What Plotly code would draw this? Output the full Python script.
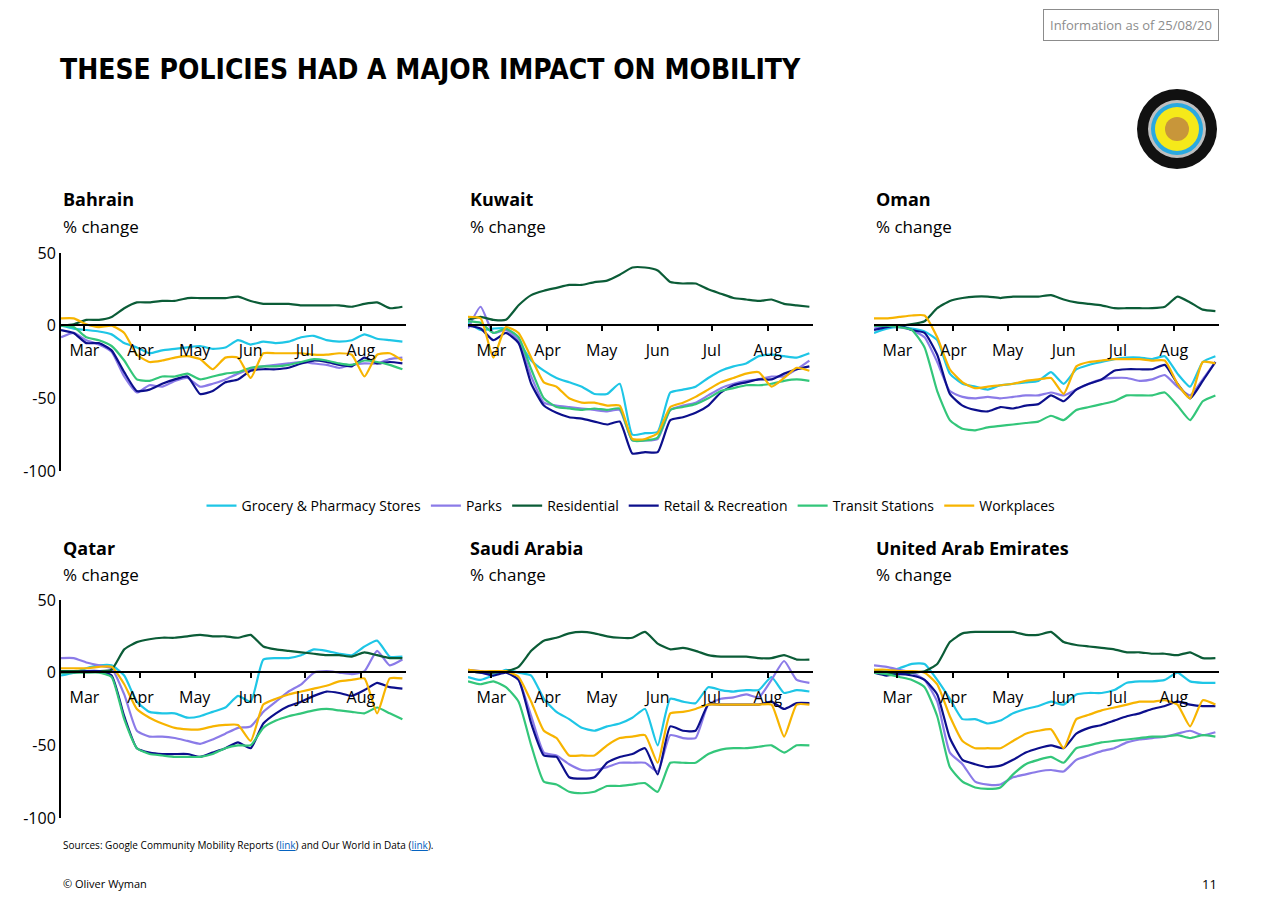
import pandas as pd
import plotly.graph_objects as go

# weekly samples, starting 17 Feb 2020
dates = pd.date_range("2020-02-17", periods=28, freq="7D")

countries = ["Bahrain", "Kuwait", "Oman", "Qatar", "Saudi Arabia", "United Arab Emirates"]
categories = ["Grocery & Pharmacy Stores", "Parks", "Residential",
              "Retail & Recreation", "Transit Stations", "Workplaces"]
y_ticks = [50, 0, -50, -100]
y_labels = ["50", "0", "-50", "-100"]

bahrain_grocery = [0, -2, -3, -4, -6, -12, -15, -19, -17, -16, -15, -14, -16, -15, -10, -13, -11, -12, -11, -8, -7, -10, -11, -10, -6, -9, -10, -11]
bahrain_parks = [-8, -5, -10, -13, -18, -35, -46, -41, -42, -38, -36, -42, -40, -37, -33, -30, -28, -27, -26, -25, -26, -27, -29, -27, -26, -26, -23, -22]
bahrain_residential = [0, 1, 4, 4, 6, 12, 16, 16, 17, 17, 19, 19, 19, 19, 20, 17, 15, 15, 15, 14, 14, 14, 14, 13, 15, 16, 12, 13]
bahrain_retail = [-3, -5, -12, -12, -17, -32, -45, -44, -40, -37, -35, -47, -45, -39, -37, -31, -30, -30, -29, -26, -24, -25, -27, -28, -22, -26, -25, -26]
bahrain_transit = [0, -1, -8, -10, -14, -24, -37, -38, -35, -35, -33, -37, -35, -33, -32, -29, -28, -28, -27, -25, -23, -24, -26, -27, -24, -25, -27, -30]
bahrain_work = [5, 5, 1, -1, 0, -5, -20, -25, -24, -22, -21, -23, -30, -22, -22, -36, -19, -19, -19, -19, -20, -20, -19, -20, -35, -20, -19, -24]

kuwait_grocery = [2, -3, -2, -2, -11, -24, -31, -36, -39, -42, -47, -47, -40, -75, -74, -73, -46, -44, -42, -36, -31, -28, -26, -21, -20, -21, -22, -19]
kuwait_parks = [-2, 13, -5, -3, -10, -35, -53, -55, -56, -57, -58, -59, -58, -79, -79, -78, -58, -55, -53, -48, -43, -40, -38, -37, -35, -35, -30, -24]
kuwait_residential = [4, 6, 4, 4, 14, 21, 24, 26, 28, 28, 30, 31, 35, 40, 40, 38, 30, 29, 29, 25, 22, 19, 18, 17, 18, 15, 14, 13]
kuwait_retail = [0, -2, -10, -5, -12, -40, -55, -60, -63, -64, -66, -68, -66, -88, -87, -87, -65, -63, -60, -55, -46, -41, -39, -37, -37, -33, -30, -28]
kuwait_transit = [3, 2, -5, -2, -8, -30, -50, -56, -57, -58, -57, -58, -57, -79, -79, -77, -58, -56, -54, -50, -45, -43, -41, -41, -40, -38, -37, -38]
kuwait_work = [6, 5, -22, -1, -5, -22, -39, -42, -50, -53, -53, -55, -55, -78, -78, -74, -56, -53, -49, -44, -39, -36, -33, -32, -42, -36, -29, -31]

oman_grocery = [-5, -2, -1, -2, -4, -10, -33, -40, -42, -44, -41, -40, -39, -38, -32, -40, -30, -27, -25, -23, -22, -22, -23, -21, -33, -42, -25, -21]
oman_parks = [-2, 0, -1, -3, -8, -25, -45, -49, -50, -49, -50, -49, -48, -48, -46, -48, -44, -40, -37, -36, -36, -38, -37, -34, -42, -48, -37, -25]
oman_residential = [0, 0, 0, 1, 3, 12, 17, 19, 20, 20, 19, 20, 20, 20, 21, 18, 16, 15, 14, 12, 12, 12, 12, 13, 20, 16, 11, 10]
oman_retail = [-3, -1, 0, -3, -5, -20, -47, -55, -58, -59, -56, -57, -55, -54, -48, -52, -44, -40, -37, -31, -30, -30, -30, -27, -40, -50, -38, -25]
oman_transit = [0, 0, -1, -3, -15, -45, -65, -71, -72, -70, -69, -68, -67, -66, -62, -65, -58, -56, -54, -52, -48, -48, -48, -46, -55, -65, -52, -48]
oman_work = [5, 5, 6, 7, 7, -8, -30, -39, -43, -42, -41, -40, -38, -37, -36, -47, -28, -25, -24, -23, -23, -23, -24, -24, -40, -50, -25, -26]

qatar_grocery = [-2, 0, 3, 5, 5, -2, -20, -27, -28, -28, -31, -30, -27, -24, -16, -20, 9, 10, 10, 12, 16, 15, 13, 12, 18, 22, 11, 11]
qatar_parks = [10, 10, 7, 5, 3, -15, -40, -44, -44, -45, -47, -49, -46, -42, -38, -37, -27, -20, -13, -8, 0, 1, 0, -1, 1, 15, 5, 9]
qatar_residential = [1, 1, 1, 1, 2, 16, 21, 23, 24, 24, 25, 26, 25, 25, 24, 26, 18, 16, 15, 14, 13, 12, 12, 11, 14, 12, 10, 10]
qatar_retail = [0, 0, 1, 1, -2, -30, -52, -55, -56, -56, -56, -58, -55, -52, -48, -52, -35, -28, -23, -20, -16, -13, -14, -16, -12, -7, -10, -11]
qatar_transit = [0, 0, 0, 0, -3, -32, -52, -56, -57, -58, -58, -58, -56, -52, -50, -50, -38, -33, -30, -28, -26, -25, -26, -27, -28, -24, -28, -32]
qatar_work = [3, 3, 3, 4, 4, -8, -25, -31, -35, -38, -39, -39, -37, -36, -36, -47, -22, -18, -15, -13, -11, -9, -6, -5, -4, -28, -4, -4]

saudi_grocery = [-3, -5, -2, 2, 0, -2, -18, -27, -32, -38, -40, -37, -35, -31, -25, -50, -18, -20, -21, -10, -12, -13, -12, -12, -3, -14, -12, -13]
saudi_parks = [2, 1, 0, 1, -5, -30, -55, -57, -63, -67, -67, -65, -62, -62, -62, -68, -43, -45, -45, -22, -18, -17, -15, -17, -5, 8, -5, -7]
saudi_residential = [1, 0, 0, 1, 4, 15, 22, 24, 27, 28, 27, 25, 24, 24, 28, 20, 16, 17, 15, 12, 11, 11, 11, 10, 10, 12, 9, 9]
saudi_retail = [1, 0, -2, 0, -5, -35, -57, -58, -72, -73, -72, -62, -58, -56, -52, -70, -37, -40, -40, -22, -22, -22, -22, -22, -20, -25, -21, -21]
saudi_transit = [-6, -8, -6, -10, -20, -50, -75, -77, -82, -83, -82, -78, -78, -77, -76, -82, -62, -62, -62, -56, -53, -52, -52, -51, -50, -55, -50, -50]
saudi_work = [2, 1, 1, 1, -3, -20, -40, -45, -57, -57, -57, -50, -45, -44, -43, -62, -28, -27, -25, -22, -22, -22, -22, -22, -22, -44, -22, -22]

uae_grocery = [2, 1, 3, 6, 6, -5, -18, -32, -32, -35, -33, -28, -25, -23, -20, -22, -15, -14, -14, -12, -7, -6, -6, -5, 0, -6, -7, -7]
uae_parks = [5, 4, 2, 0, -5, -20, -55, -63, -75, -77, -77, -72, -70, -68, -67, -68, -60, -57, -54, -52, -48, -46, -45, -44, -42, -40, -43, -41]
uae_residential = [2, 0, -1, 0, 1, 6, 21, 27, 28, 28, 28, 28, 26, 26, 28, 21, 19, 18, 17, 16, 14, 14, 13, 13, 12, 14, 10, 10]
uae_retail = [0, -2, -1, -2, -5, -15, -45, -60, -63, -65, -64, -60, -55, -52, -50, -52, -42, -38, -36, -33, -30, -28, -25, -23, -20, -22, -23, -23]
uae_transit = [0, -1, -3, -5, -10, -30, -65, -75, -79, -80, -79, -70, -63, -60, -58, -62, -52, -50, -48, -47, -46, -45, -44, -44, -43, -45, -43, -44]
uae_work = [2, 2, 1, 1, 0, -8, -30, -47, -52, -52, -52, -47, -42, -40, -39, -52, -32, -29, -26, -24, -22, -20, -20, -19, -22, -37, -19, -22]

series = {
    "Bahrain": [bahrain_grocery, bahrain_parks, bahrain_residential, bahrain_retail, bahrain_transit, bahrain_work],
    "Kuwait": [kuwait_grocery, kuwait_parks, kuwait_residential, kuwait_retail, kuwait_transit, kuwait_work],
    "Oman": [oman_grocery, oman_parks, oman_residential, oman_retail, oman_transit, oman_work],
    "Qatar": [qatar_grocery, qatar_parks, qatar_residential, qatar_retail, qatar_transit, qatar_work],
    "Saudi Arabia": [saudi_grocery, saudi_parks, saudi_residential, saudi_retail, saudi_transit, saudi_work],
    "United Arab Emirates": [uae_grocery, uae_parks, uae_residential, uae_retail, uae_transit, uae_work],
}

colors = ["#1ec6e6", "#8b7be8", "#0b5c37", "#0c0f8c", "#33c67a", "#f7b400"]

W, H = 1280, 915
FONT = "Open Sans, Noto Sans, sans-serif"
col_px = [(61, 406), (468, 813), (874, 1219)]
# plot top, plot bottom, zero line, country title y, subtitle y
row_px = [(253, 471, 325, 199, 227), (600, 818, 672, 548, 575)]


def py(y):
    # the page comes out slightly squashed vertically, so pre-correct
    return 1 - ((y - 11) / 0.976) / H


fig = go.Figure()
annotations = []

for i, country in enumerate(countries):
    r, c = divmod(i, 3)
    n = i + 1
    xa = "x" if n == 1 else f"x{n}"
    ya = "y" if n == 1 else f"y{n}"
    for j, cat in enumerate(categories):
        fig.add_trace(go.Scatter(
            x=dates, y=series[country][j], mode="lines", name=cat,
            line=dict(color=colors[j], width=2.2, shape="spline", smoothing=0.5),
            showlegend=(i == 0), xaxis=xa, yaxis=ya))
    x0, x1 = col_px[c]
    top, bot, zero, ty, sy = row_px[r]
    fig.layout[f"xaxis{'' if n == 1 else n}"] = dict(
        domain=[x0 / W, x1 / W], anchor="free", position=py(zero),
        range=["2020-02-17", "2020-08-26"], type="date",
        dtick="M1", tick0="2020-03-01", tickformat="%b",
        showline=True, linecolor="black", linewidth=2,
        ticks="outside", ticklen=5, tickcolor="black", tickwidth=2,
        ticklabelstandoff=6,
        showgrid=False, zeroline=False,
        tickfont=dict(family=FONT, size=16, color="black"))
    fig.layout[f"yaxis{'' if n == 1 else n}"] = dict(
        domain=[py(bot), py(top)], anchor=xa, range=[-100, 50],
        tickvals=y_ticks, ticktext=y_labels,
        showticklabels=(c == 0), showline=(c == 0), linecolor="black", linewidth=2,
        showgrid=False, zeroline=False, ticks="",
        tickfont=dict(family=FONT, size=16, color="black"))
    annotations.append(dict(text="<b>" + country + "</b>", x=x0 / W, y=py(ty),
                            xref="paper", yref="paper", xanchor="left", yanchor="middle",
                            showarrow=False, font=dict(family=FONT, size=18, color="black")))
    annotations.append(dict(text="% change", x=x0 / W, y=py(sy),
                            xref="paper", yref="paper", xanchor="left", yanchor="middle",
                            showarrow=False, font=dict(family=FONT, size=17, color="black")))

annotations += [
    dict(text="<b>THESE POLICIES HAD A MAJOR IMPACT ON MOBILITY</b>", x=58 / W, y=py(70),
         xref="paper", yref="paper", xanchor="left", yanchor="middle", showarrow=False,
         font=dict(family="DejaVu Sans Condensed, DejaVu Sans, sans-serif", size=28, color="black")),
    dict(text="Information as of 25/08/20", x=1219 / W, y=py(25),
         xref="paper", yref="paper", xanchor="right", yanchor="middle", showarrow=False,
         bordercolor="#8c8c8c", borderwidth=1, borderpad=6,
         font=dict(family=FONT, size=13, color="#8c8c8c")),
    dict(text="Sources: Google Community Mobility Reports (<span style='color:#0563c1'><u>link</u></span>)"
              " and Our World in Data (<span style='color:#0563c1'><u>link</u></span>).",
         x=61 / W, y=py(845), xref="paper", yref="paper", xanchor="left", yanchor="middle",
         showarrow=False, font=dict(family=FONT, size=10, color="black")),
    dict(text="© Oliver Wyman", x=61 / W, y=py(884), xref="paper", yref="paper",
         xanchor="left", yanchor="middle", showarrow=False,
         font=dict(family=FONT, size=11, color="black")),
    dict(text="11", x=1219 / W, y=py(884), xref="paper", yref="paper",
         xanchor="right", yanchor="middle", showarrow=False,
         font=dict(family=FONT, size=13, color="black")),
]

# GCC emblem, roughly
cx, cy = 1177, 129
def circ(rr, fill):
    return dict(type="circle", xref="paper", yref="paper",
                x0=(cx - rr) / W, x1=(cx + rr) / W, y0=py(cy + rr), y1=py(cy - rr),
                fillcolor=fill, line=dict(width=0))
shapes = [circ(40, "#111111"), circ(29, "#bfbfbf"), circ(26, "#2aa9e0"), circ(22, "#f5e91a"),
          circ(12, "#c8963a")]

fig.update_layout(
    width=W, height=H, margin=dict(l=0, r=0, t=0, b=0),
    paper_bgcolor="white", plot_bgcolor="white",
    annotations=annotations, shapes=shapes,
    legend=dict(orientation="h", x=631 / W, y=py(506), xanchor="center", yanchor="middle",
                font=dict(family=FONT, size=14, color="black"), itemwidth=30,
                traceorder="normal"),
)

fig.write_html("out.html", config={"displayModeBar": False},
               post_script="document.body.style.margin='0';")
